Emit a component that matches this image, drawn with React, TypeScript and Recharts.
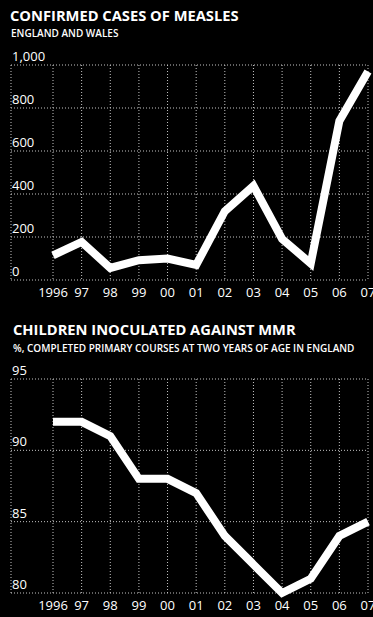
import { LineChart, Line, XAxis, YAxis, CartesianGrid } from "recharts";

const YEARS = ["1996", "97", "98", "99", "00", "01", "02", "03", "04", "05", "06", "07"];
const MEASLES_CASES = [115, 177, 56, 92, 100, 70, 320, 438, 191, 77, 740, 970];
const MMR_COVERAGE = [92, 92, 91, 88, 88, 87, 84, 82, 80, 81, 84, 85];
const MEASLES_TICKS = [0, 200, 400, 600, 800, 1000];
const MMR_TICKS = [80, 85, 90, 95];

const FONT = "'Open Sans', 'DejaVu Sans', sans-serif";
const GRID = "#c4c4c4";

function ValueTick(props: any) {
  const { y, payload } = props;
  return (
    <text x={12} y={y - 4} textAnchor="start" fill="#fff" fontSize={13} fontFamily={FONT}>
      {Number(payload.value).toLocaleString("en-US")}
    </text>
  );
}

interface PanelProps {
  top: number;
  height: number;
  plotTop: number;
  plotBottom: number;
  values: number[];
  ticks: number[];
  domain: [number, number];
}

function Panel({ top, height, plotTop, plotBottom, values, ticks, domain }: PanelProps) {
  const data = YEARS.map((year, i) => ({ year, value: values[i] }));
  const xAxisHeight = 20;
  return (
    <div style={{ position: "absolute", left: 0, top }}>
      <LineChart
        width={373}
        height={height}
        data={data}
        margin={{ top: plotTop, right: 5, bottom: height - plotBottom - xAxisHeight, left: 11 }}
      >
        <CartesianGrid stroke={GRID} strokeDasharray="1 2" strokeWidth={1} />
        <XAxis
          dataKey="year"
          height={xAxisHeight}
          axisLine={false}
          tickLine={false}
          interval={0}
          padding={{ left: 42, right: 0 }}
          tick={(p: any) => (
            <text x={p.x} y={plotBottom + 17} textAnchor="middle" fill="#fff" fontSize={13} fontFamily={FONT}>
              {p.payload.value}
            </text>
          )}
        />
        <YAxis
          width={1}
          mirror
          domain={domain}
          ticks={ticks}
          axisLine={false}
          tickLine={false}
          interval={0}
          tick={<ValueTick />}
        />
        <Line
          type="linear"
          dataKey="value"
          stroke="#fff"
          strokeWidth={8}
          strokeLinejoin="miter"
          strokeLinecap="butt"
          dot={false}
          activeDot={false}
          isAnimationActive={false}
        />
      </LineChart>
    </div>
  );
}

export default function App() {
  return (
    <div style={{ position: "absolute", left: 0, top: 0, width: 373, height: 617, background: "#000", overflow: "hidden" }}>
      <Panel top={0} height={310} plotTop={65} plotBottom={280} values={MEASLES_CASES} ticks={MEASLES_TICKS} domain={[0, 1000]} />
      <Panel top={310} height={307} plotTop={69} plotBottom={283} values={MMR_COVERAGE} ticks={MMR_TICKS} domain={[80, 95]} />
      <svg width={373} height={617} style={{ position: "absolute", left: 0, top: 0, pointerEvents: "none" }}>
        <text x={10} y={21} fill="#fff" fontSize={14.7} fontWeight={700} fontFamily={FONT}>
          CONFIRMED CASES OF MEASLES
        </text>
        <text x={11} y={37} fill="#fff" fontSize={10} fontWeight={600} fontFamily={FONT}>
          ENGLAND AND WALES
        </text>
        <text x={13} y={335} fill="#fff" fontSize={14.7} fontWeight={700} fontFamily={FONT}>
          CHILDREN INOCULATED AGAINST MMR
        </text>
        <text x={13} y={352} fill="#fff" fontSize={10} fontWeight={600} fontFamily={FONT}>
          %, COMPLETED PRIMARY COURSES AT TWO YEARS OF AGE IN ENGLAND
        </text>
      </svg>
    </div>
  );
}
